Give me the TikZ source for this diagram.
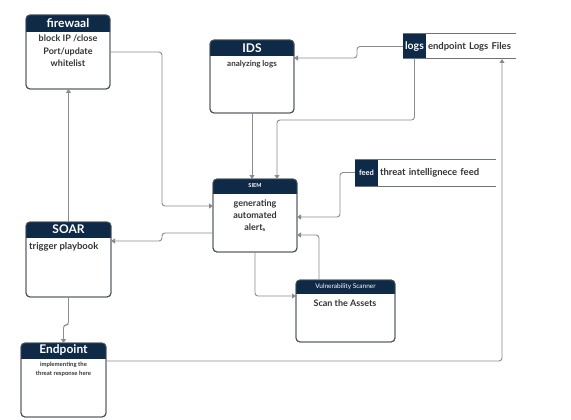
\documentclass[tikz,border=0pt]{standalone}
\usepackage{fontspec}
\setmainfont{Lato}
\usetikzlibrary{arrows.meta}
\definecolor{navy}{HTML}{0E2A47}
\definecolor{edge}{HTML}{8C8C8C}
\definecolor{rim}{HTML}{46505A}
\tikzset{
  card/.style={draw=rim, line width=0.9pt, rounded corners=4pt, outer sep=0pt, inner sep=0pt},
  link/.style={draw=edge, line width=0.9pt, rounded corners=3pt, -{Triangle[width=5pt,length=4pt]}},
  title/.style={text=white, inner sep=0pt, font=\bfseries\fontsize{12}{14}\selectfont},
  body/.style={inner sep=0pt, align=center, text=black!80, font=\bfseries\fontsize{9}{12.5}\selectfont},
  store/.style={fill=navy, text=white, inner sep=0pt, outer sep=0pt},
  storetext/.style={inner xsep=2pt, inner ysep=0pt, outer sep=0pt, align=left, text=black!80},
  rail/.style={draw=rim!80, line width=1pt}
}
\newcommand\cardtop[2]{%
  \begin{scope}
    \clip ([shift={(-1pt,1pt)}]#1.north west) rectangle ([shift={(1pt,-#2pt)}]#1.north east);
    \fill[navy, rounded corners=4pt] (#1.north west) rectangle (#1.south east);
  \end{scope}
  \draw[card] (#1.north west) rectangle (#1.south east);
}

\begin{document}
\begin{tikzpicture}[x=1pt, y=-1pt]
\useasboundingbox (0,0) rectangle (571,420);

% cards
\node[card, minimum width=84, minimum height=74] (fw) at (68,52) {};
\node[card, minimum width=84, minimum height=73] (ids) at (252,76.5) {};
\node[card, minimum width=84, minimum height=73] (siem) at (255,215.5) {};
\node[card, minimum width=85, minimum height=75] (soar) at (68.5,259.5) {};
\node[card, minimum width=99, minimum height=62] (vs) at (345.5,311) {};
\node[card, minimum width=85, minimum height=74] (ep) at (63.5,380) {};

\cardtop{fw}{17}
\cardtop{ids}{16}
\cardtop{siem}{14}
\cardtop{soar}{15}
\cardtop{vs}{13}
\cardtop{ep}{15}

\node[title] at ([yshift=-8.5pt]fw.north) {firewaal};
\node[title] at ([yshift=-8pt]ids.north) {IDS};
\node[title, font=\bfseries\fontsize{5.5}{7}\selectfont] at ([yshift=-7pt]siem.north) {SIEM};
\node[title] at ([yshift=-7.5pt]soar.north) {SOAR};
\node[title, font=\fontsize{6.5}{8}\selectfont] at ([yshift=-6.5pt]vs.north) {Vulnerability Scanner};
\node[title] at ([yshift=-7.5pt]ep.north) {Endpoint};

\node[body, anchor=north] at (68,35) {block IP /close\\Port/update\\whitelist};
\node[body, anchor=north, font=\bfseries\fontsize{8}{10}\selectfont] at (252,60) {analyzing logs};
\node[body, anchor=north, font=\bfseries\fontsize{9}{12}\selectfont] at (255,200) {generating\\automated\\alert\textsubscript{s}};
\node[body, anchor=north west, font=\bfseries\fontsize{9.5}{12}\selectfont] at (29,242) {trigger playbook};
\node[body, anchor=north] at (345,300) {Scan the Assets};
\node[body, anchor=north, font=\bfseries\fontsize{6}{8.5}\selectfont] at (63.5,362) {implementing the\\threat response here};

% data stores
\node[store, minimum width=23, minimum height=25, font=\bfseries\fontsize{10.5}{12}\selectfont] (logs) at (414.5,46.5) {logs};
\node[storetext, text width=86, minimum height=25, anchor=west, font=\bfseries\fontsize{9.5}{11}\selectfont] (logsf) at (logs.east) {endpoint Logs Files};
\draw[rail] (logs.north west) -- (logsf.north east);
\draw[rail] (logs.south west) -- (logsf.south east);

\node[store, minimum width=23, minimum height=27, font=\bfseries\fontsize{7.5}{9}\selectfont] (feed) at (366.5,172.5) {feed};
\node[storetext, text width=114, minimum height=27, anchor=west, font=\bfseries\fontsize{9.5}{11}\selectfont] (feedf) at (feed.east) {threat intellignece feed};
\draw[rail] (feed.north west) -- (feedf.north east);
\draw[rail] (feed.south west) -- (feedf.south east);

% connectors
\draw[link] (fw.east) -- (162,52) -- (162,206) -- (siem.west |- 0,206);
\draw[link] (soar.north) -- (soar.north |- fw.south);
\draw[link] (siem.west |- 0,233) -- (162,233) |- (soar.east |- 0,241);
\draw[link] (soar.south) -- (68.5,325) -| (ep.north);
\draw[link] (ep.east |- 0,361) -| (logsf.south -| 502,0);
\draw[link] (logs.west) -- (357,46.5) |- (ids.east |- 0,58);
\draw[link] (logs.south) |- (277,120) -- (siem.north -| 277,0);
\draw[link] (ids.south) -- (ids.south |- siem.north);
\draw[link] (feed.west) -| (340,217) -- (siem.east |- 0,217);
\draw[link] (vs.north -| 319,0) |- (siem.east |- 0,235);
\draw[link] (siem.south) |- (vs.west |- 0,296);
\end{tikzpicture}
\end{document}
